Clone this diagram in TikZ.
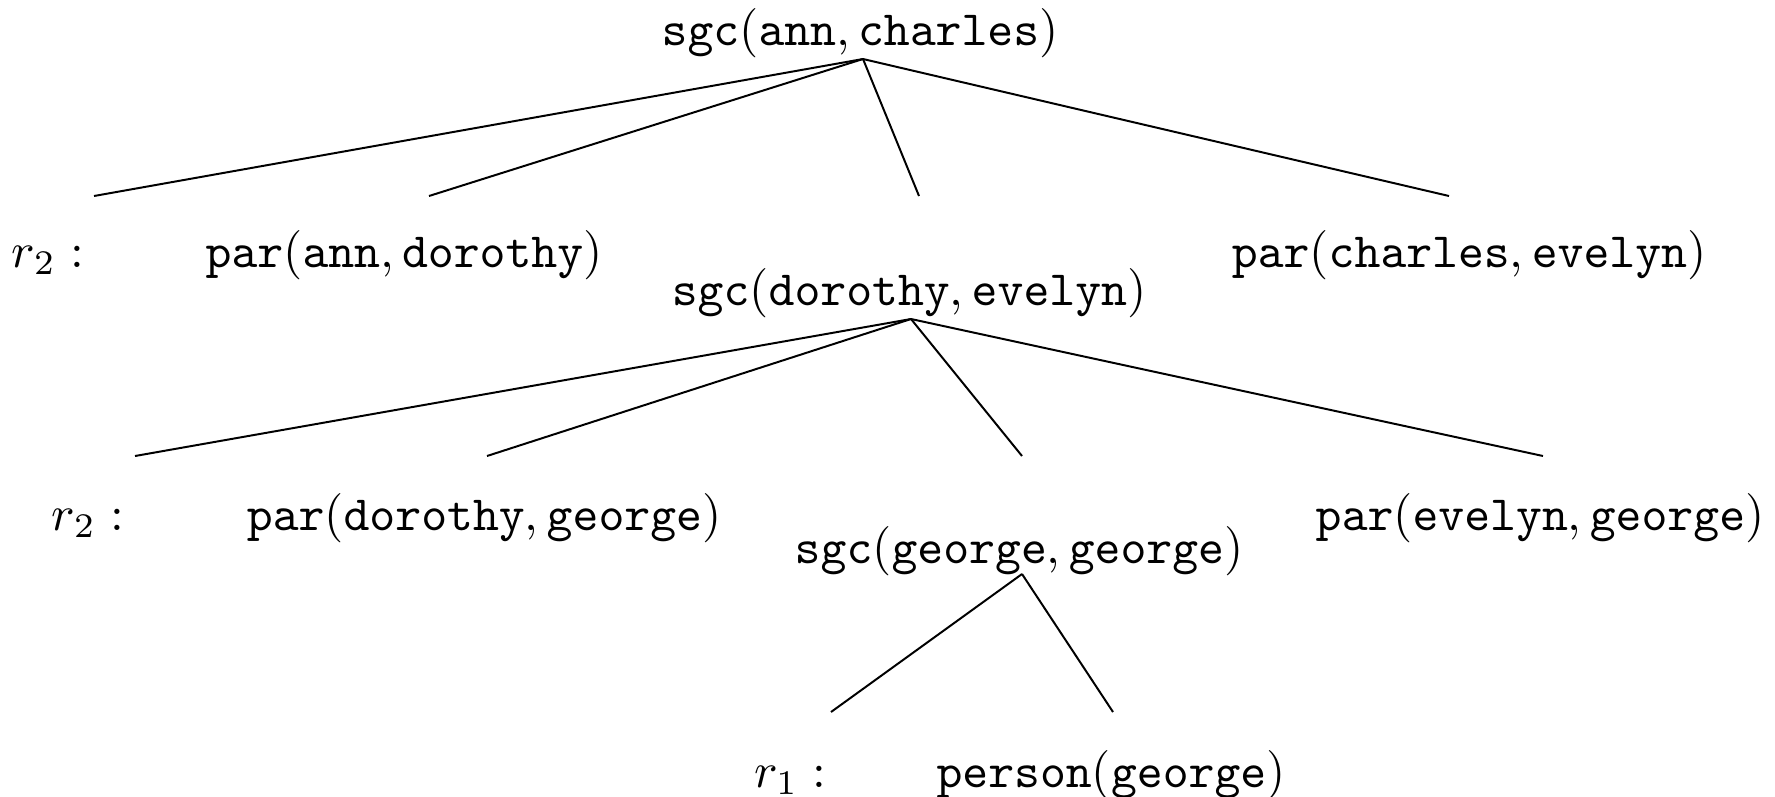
\documentclass[tikz,border=0pt]{standalone}
\begin{document}
\begin{tikzpicture}[x=0.2028pt,y=-0.2028pt,
  term/.style={inner sep=0pt,anchor=base},
  rulelbl/.style={inner sep=0pt,anchor=base west},
  branch/.style={line width=0.4pt}]
\useasboundingbox (0,0) rectangle (1775,796);
% level 0
\node[term] (n0) at (860,45) {$\mathtt{sgc}(\mathtt{ann},\mathtt{charles})$};
% level 1
\node[rulelbl] (r1a) at (11,267) {$r_2:$};
\node[term] (p1a) at (404,267) {$\mathtt{par}(\mathtt{ann},\mathtt{dorothy})$};
\node[term] (n1) at (909,305) {$\mathtt{sgc}(\mathtt{dorothy},\mathtt{evelyn})$};
\node[term] (p1b) at (1469,267) {$\mathtt{par}(\mathtt{charles},\mathtt{evelyn})$};
% level 2
\node[rulelbl] (r2a) at (51,530) {$r_2:$};
\node[term] (p2a) at (484,530) {$\mathtt{par}(\mathtt{dorothy},\mathtt{george})$};
\node[term] (n2) at (1019,563) {$\mathtt{sgc}(\mathtt{george},\mathtt{george})$};
\node[term] (p2b) at (1540,530) {$\mathtt{par}(\mathtt{evelyn},\mathtt{george})$};
% level 3
\node[rulelbl] (r3a) at (753,787) {$r_1:$};
\node[term] (p3a) at (1111,787) {$\mathtt{person}(\mathtt{george})$};
% apexes and branch ends
\coordinate (a0) at (863,59);
\coordinate (e01) at (94,196);
\coordinate (e02) at (429,196);
\coordinate (e03) at (919,196);
\coordinate (e04) at (1449,196);
\coordinate (a1) at (911,319);
\coordinate (e11) at (135,456);
\coordinate (e12) at (487,456);
\coordinate (e13) at (1022,456);
\coordinate (e14) at (1543,456);
\coordinate (a2) at (1022,574);
\coordinate (e21) at (831,712);
\coordinate (e22) at (1113,712);
\draw[branch] (a0) -- (e01);
\draw[branch] (a0) -- (e02);
\draw[branch] (a0) -- (e03);
\draw[branch] (a0) -- (e04);
\draw[branch] (a1) -- (e11);
\draw[branch] (a1) -- (e12);
\draw[branch] (a1) -- (e13);
\draw[branch] (a1) -- (e14);
\draw[branch] (a2) -- (e21);
\draw[branch] (a2) -- (e22);
\end{tikzpicture}
\end{document}
